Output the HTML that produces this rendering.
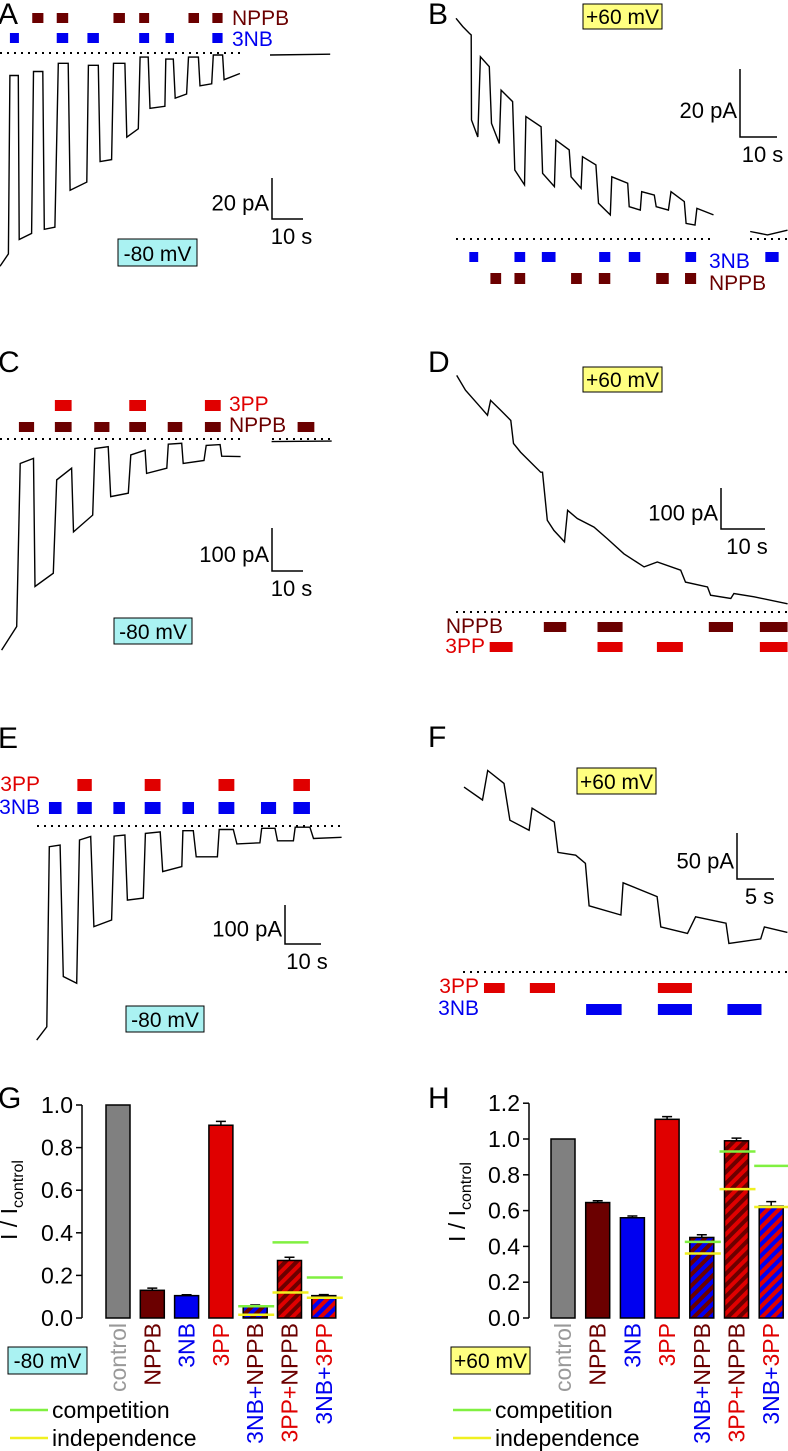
<!DOCTYPE html>
<html><head><meta charset="utf-8">
<style>
html,body{margin:0;padding:0;background:#fff;}
svg{display:block;font-family:"Liberation Sans",Arial,sans-serif;}
</style></head>
<body>
<svg id="fig" width="788" height="1451" viewBox="0 0 788 1451" xmlns="http://www.w3.org/2000/svg">
<defs>
<pattern id="p-3nb-nppb" patternUnits="userSpaceOnUse" width="8" height="8" patternTransform="rotate(45)"><rect width="4" height="8" fill="#0000f0"/><rect x="4" width="4" height="8" fill="#6b0000"/></pattern>
<pattern id="p-3pp-nppb" patternUnits="userSpaceOnUse" width="8" height="8" patternTransform="rotate(45)"><rect width="4" height="8" fill="#e00000"/><rect x="4" width="4" height="8" fill="#6b0000"/></pattern>
<pattern id="p-3nb-3pp" patternUnits="userSpaceOnUse" width="8" height="8" patternTransform="rotate(45)"><rect width="4" height="8" fill="#0000f0"/><rect x="4" width="4" height="8" fill="#e00000"/></pattern>
</defs>
</svg>
<script>
// ---- trace data: [time s, current pA] ----
const traceA = [[0,-104],[2.7,-98],[3.2,-11],[5.9,-11],[6.2,-91],[10.2,-88],[10.8,-9],[13.8,-9],[14.3,-86],[17.7,-85],[18.8,-5],[22.0,-5],[22.6,-67],[28.0,-63],[28.5,-6],[31.7,-6],[32.3,-53],[36.0,-52],[36.6,-5],[40.3,-5],[40.9,-41],[44.6,-37],[45.2,-2],[47.8,-2],[48.4,-27],[53.2,-26],[53.5,-3],[55.9,-3],[56.5,-22],[60.2,-20],[60.8,-2],[64.0,-2],[64.5,-16],[68.3,-15],[68.8,-1],[71.8,-1],[72.3,-13],[77.4,-10]];
const traceA2 = [[87.1,-1],[106.5,-0.6]];
const traceB = [[0,64.9],[1.8,62.5],[3.6,60.5],[4.1,60],[4.2,35],[5.9,30],[6.6,53.6],[9.0,50.7],[9.6,34],[11.7,28.1],[12.2,43.8],[15.3,40.4],[15.9,20.3],[18.5,15.9],[18.9,36],[23.0,33],[23.4,19.3],[26.6,15.4],[27.0,29.1],[30.6,26.2],[31.1,18.3],[33.8,14.9],[34.2,24.2],[37.8,21.8],[38.5,10.5],[41.7,7.1],[42.1,18.3],[46.4,16.4],[46.8,9.5],[49.8,8.5],[50.2,13.9],[53.6,12.9],[54.1,9.5],[57.4,8.5],[58.1,13.9],[61.7,11],[62.2,4.6],[64.6,4.1],[65.1,9],[69.6,7.1]];
const traceB2 = [[79.5,2.2],[84.2,1.2],[89.6,2.6]];
const traceC = [[0.5,-491],[5.4,-436],[6.5,-57],[10.8,-45],[11.3,-343],[17.2,-312],[18.3,-95],[23.1,-68],[23.7,-216],[29.9,-177],[30.6,-22],[34.9,-18],[35.7,-134],[41.4,-126],[42.2,-37],[46.8,-26],[47.3,-80],[53.8,-68],[54.3,-12],[58.6,-10],[59.1,-57],[65.8,-50],[66.5,-15],[71.0,-13],[71.5,-40],[77.6,-41]];
const traceC2 = [[87.6,-6],[107,-5]];
const traceD = [[0,577],[2.0,541],[4.7,508],[7.0,480],[7.7,516],[10.0,492],[12.3,467],[12.9,411],[14.5,390],[19.1,341],[19.5,341],[20.6,224],[22.1,199],[24.5,171],[25.2,248],[27.4,228],[31.2,207],[34.2,179],[38.0,142],[42.6,110],[45.6,122],[50.9,102],[52.0,73],[57.0,61],[57.7,41],[62.3,33],[63.0,45],[67.6,37],[75.2,20]];
const traceE = [[0,-549],[2.8,-515],[3.5,-53],[6.5,-49],[7.4,-386],[11.1,-403],[11.9,-36],[15,-27],[15.9,-258],[20.8,-241],[21.5,-26],[24.5,-23],[25.2,-190],[29.6,-185],[30.2,-19],[34.3,-15],[35,-117],[40.3,-104],[40.6,-12],[43.5,-12],[44.3,-79],[50.2,-79],[50.7,-9],[54.6,-9],[55.6,-46],[62,-43],[62.5,-6],[66.2,-6],[66.9,-38],[71.3,-38],[71.8,-3],[75.9,-3],[76.9,-32],[84.7,-29]];
const traceF = [[0,201],[2.5,187],[3.2,219],[5.4,205],[6.2,165],[8.8,154],[9.2,178],[12.2,163],[12.7,130],[15.1,127],[16.4,118],[16.9,72],[21.2,62],[21.5,97],[26.1,82],[26.6,49],[30.2,42],[31.3,60],[35.4,53],[35.8,31],[40.1,36],[40.6,49],[43.7,43]];
// ---- drug application intervals [start s, end s] ----
const appA_NPPB = [[10.4,14],[18.3,22],[36.6,40.3],[44.9,48.1],[60.8,64.2],[68.5,71.8]];
const appA_3NB = [[3.2,6.1],[18.3,22],[28.2,31.9],[44.9,48.1],[53.4,56.1],[68.5,71.8]];
const appB_3NB = [[3.6,6.0],[15.8,18.7],[23.2,26.9],[38.7,41.7],[46.7,49.8],[62,64.9],[83.6,87.2]];
const appB_NPPB = [[9.3,12.2],[15.8,18.7],[31.1,34],[38.6,41.7],[54.1,57.5],[61.9,64.9]];
const appC_3PP = [[17.7,23.1],[41.7,47.1],[66.1,71.2]];
const appC_NPPB = [[6.1,11],[17.7,23.1],[30.4,35.3],[41.7,47.1],[54.1,58.8],[66.1,71.2],[96,101.4]];
const appD_NPPB = [[19.8,24.9],[32,37.7],[57.3,62.8],[68.9,75.2]];
const appD_3PP = [[7.5,12.7],[32,37.7],[45.5,51.4],[68.9,75.2]];
const appE_3PP = [[11.3,15.3],[30,34.4],[50.5,54.9],[71.3,75.9]];
const appE_3NB = [[3.4,6.9],[11.3,15.3],[21.3,24.5],[30,34.4],[40.5,43.7],[50.5,54.9],[62.3,66.5],[71.3,75.9]];
const appF_3PP = [[2.7,5.5],[8.9,12.3],[26.2,30.8]];
const appF_3NB = [[16.5,21.3],[26.2,30.8],[35.6,40.2]];
// ---- bar chart data ----
const categories = ["control","NPPB","3NB","3PP","3NB+NPPB","3PP+NPPB","3NB+3PP"];
const valuesG = [1.0,0.13,0.105,0.905,0.055,0.27,0.105];
const errorsG = [0,0.01,0.004,0.018,0.006,0.015,0.005];
const competitionG = [0.055,0.355,0.19];
const independenceG = [0.015,0.12,0.095];
const valuesH = [1.0,0.645,0.56,1.11,0.45,0.99,0.625];
const errorsH = [0,0.01,0.01,0.015,0.015,0.015,0.025];
const competitionH = [0.425,0.93,0.85];
const independenceH = [0.36,0.72,0.62];
const ticksG = ["0.0","0.2","0.4","0.6","0.8","1.0"];
const ticksH = ["0.0","0.2","0.4","0.6","0.8","1.0","1.2"];

const NS="http://www.w3.org/2000/svg";
const svg=document.getElementById('fig');
function mk(tag,attrs,parent){const e=document.createElementNS(NS,tag);for(const k in attrs)e.setAttribute(k,attrs[k]);(parent||svg).appendChild(e);return e;}
function txt(s,attrs,parent){const e=mk('text',attrs,parent);e.textContent=s;return e;}

const C_NPPB="#6b0000",C_3NB="#0000f0",C_3PP="#e00000";

function panel(cfg){
  const g=mk('g',{});
  
  
  const X=t=>cfg.x0+t*cfg.pxS, Y=i=>cfg.y0-i*cfg.pxPA;
  cfg.zero.forEach(z=>{
    const l=mk('line',{x1:z[0],x2:z[1],y1:cfg.y0,y2:cfg.y0,stroke:'#000','stroke-width':2,'stroke-dasharray':'2,5'},g);
    
    
  });
  cfg.traces.forEach(tr=>{
    const d=tr.map((p,i)=>(i?'L':'M')+X(p[0]).toFixed(1)+' '+Y(p[1]).toFixed(1)).join(' ');
    const p=mk('path',{d:d,fill:'none',stroke:'#000','stroke-width':1.4},g);
    
    
  });
  cfg.apps.forEach(a=>{
    a.data.forEach(iv=>{
      const r=mk('rect',{x:X(iv[0]),y:a.y,width:X(iv[1])-X(iv[0]),height:a.h,fill:a.color},g);
      
      
    });
    const t=txt(a.name,{x:a.lx,y:a.ly,fill:a.color,'font-size':21,'text-anchor':a.anchor},g);
    
    
  });
  const L=txt(cfg.id,{x:cfg.lx,y:cfg.ly,'font-size':30},g);
  
  
  const vb=cfg.vbox;
  const r=mk('rect',{x:vb[0],y:vb[1],width:vb[2],height:vb[3],fill:vb[4],stroke:'#000','stroke-width':1},g);
  
  
  const vt=txt(vb[5],{x:vb[0]+vb[2]/2,y:vb[1]+vb[3]-5,'font-size':21,'text-anchor':'middle'},g);
  
  
  const s=cfg.sb;
  const sp=mk('path',{d:`M${s.x} ${s.y} L${s.x} ${s.y+s.h} L${s.x+s.w} ${s.y+s.h}`,fill:'none',stroke:'#000','stroke-width':1.5},g);
  
  
  const st1=txt(s.pa,{x:s.x-3,y:s.y+s.h*0.6+8,'font-size':22,'text-anchor':'end'},g);
  
  
  const st2=txt(s.s,{x:s.x+s.w/2+4,y:s.y+s.h+25,'font-size':22,'text-anchor':'middle'},g);
  
  
}

panel({id:'A',x0:0,pxS:3.1,y0:53,pxPA:2.05,zero:[[0,242]],traces:[traceA,traceA2],
  apps:[{name:'NPPB',data:appA_NPPB,y:13,h:10,color:C_NPPB,lx:232,ly:25,anchor:'start'},
        {name:'3NB',data:appA_3NB,y:33,h:10,color:C_3NB,lx:232,ly:46,anchor:'start'}],
  lx:-2,ly:24,vbox:[118,239,79,27,'#aaf2f2','-80 mV'],sb:{x:272,y:178,h:41,w:31,pa:'20 pA',s:'10 s'}});
panel({id:'B',x0:456,pxS:3.7,y0:239,pxPA:3.4,zero:[[456,714],[750,788]],traces:[traceB,traceB2],
  apps:[{name:'3NB',data:appB_3NB,y:252,h:10,color:C_3NB,lx:709,ly:268,anchor:'start'},
        {name:'NPPB',data:appB_NPPB,y:273,h:11,color:C_NPPB,lx:709,ly:290,anchor:'start'}],
  lx:428,ly:24,vbox:[583,4,79,25,'#ffff80','+60 mV'],sb:{x:740,y:69,h:68,w:37,pa:'20 pA',s:'10 s'}});
panel({id:'C',x0:0,pxS:3.1,y0:439,pxPA:0.43,zero:[[0,242],[272,332]],traces:[traceC,traceC2],
  apps:[{name:'3PP',data:appC_3PP,y:400,h:11,color:C_3PP,lx:229,ly:411,anchor:'start'},
        {name:'NPPB',data:appC_NPPB,y:422,h:10,color:C_NPPB,lx:229,ly:432,anchor:'start'}],
  lx:-2,ly:372,vbox:[114,618,78,26,'#aaf2f2','-80 mV'],sb:{x:272,y:528,h:43,w:31,pa:'100 pA',s:'10 s'}});
panel({id:'D',x0:456.7,pxS:4.4,y0:612,pxPA:0.41,zero:[[456,788]],traces:[traceD],
  apps:[{name:'NPPB',data:appD_NPPB,y:622,h:10,color:C_NPPB,lx:503,ly:633,anchor:'end'},
        {name:'3PP',data:appD_3PP,y:642,h:10,color:C_3PP,lx:485,ly:653,anchor:'end'}],
  lx:428,ly:372,vbox:[583,367,79,25,'#ffff80','+60 mV'],sb:{x:721,y:488,h:41,w:44,pa:'100 pA',s:'10 s'}});
panel({id:'E',x0:36.7,pxS:3.6,y0:826,pxPA:0.39,zero:[[37,344]],traces:[traceE],
  apps:[{name:'3PP',data:appE_3PP,y:779,h:12,color:C_3PP,lx:40,ly:791,anchor:'end'},
        {name:'3NB',data:appE_3NB,y:802,h:12,color:C_3NB,lx:40,ly:814,anchor:'end'}],
  lx:-2,ly:748,vbox:[126,1006,78,26,'#aaf2f2','-80 mV'],sb:{x:285,y:905,h:39,w:36,pa:'100 pA',s:'10 s'}});
panel({id:'F',x0:464,pxS:7.4,y0:972,pxPA:0.92,zero:[[463,788]],traces:[traceF],
  apps:[{name:'3PP',data:appF_3PP,y:983,h:10,color:C_3PP,lx:479,ly:993,anchor:'end'},
        {name:'3NB',data:appF_3NB,y:1004,h:11,color:C_3NB,lx:479,ly:1015,anchor:'end'}],
  lx:428,ly:747,vbox:[577,768,79,26,'#ffff80','+60 mV'],sb:{x:737,y:833,h:46,w:37,pa:'50 pA',s:'5 s'}});

// ---- bar charts ----
const fills=['#808080',C_NPPB,C_3NB,'#e00000','url(#p-3nb-nppb)','url(#p-3pp-nppb)','url(#p-3nb-3pp)'];
const labelParts=[[['control','#999']],[['NPPB',C_NPPB]],[['3NB',C_3NB]],[['3PP',C_3PP]],
  [['3NB+',C_3NB],['NPPB',C_NPPB]],[['3PP+',C_3PP],['NPPB',C_NPPB]],[['3NB+',C_3NB],['3PP',C_3PP]]];
function barChart(cfg){
  const g=mk('g',{});
  
  
  const Y=v=>cfg.y0-v*cfg.pxU;
  const ax=mk('line',{x1:cfg.ax,x2:cfg.ax,y1:Y(cfg.max),y2:cfg.y0,stroke:'#000','stroke-width':1.5},g);
  
  
  cfg.ticks.forEach(tk=>{
    const v=parseFloat(tk);
    const l=mk('line',{x1:cfg.ax-6,x2:cfg.ax,y1:Y(v),y2:Y(v),stroke:'#000','stroke-width':1.5},g);
    
    
    const t=txt(tk,{x:cfg.ax-9,y:Y(v)+8,'font-size':23,'text-anchor':'end'},g);
    
    
  });
  const yl=txt('',{transform:`translate(${cfg.ylx},${cfg.yly}) rotate(-90)`,'font-size':23,'text-anchor':'middle'},g);
  
  
  const a=mk('tspan',{},yl);a.textContent='I / I';
  const b=mk('tspan',{'font-size':16,dy:6},yl);b.textContent='control';
  const bx=i=>cfg.bx0+i*cfg.step;
  categories.forEach((c,i)=>{
    const v=cfg.values[i];
    const r=mk('rect',{x:bx(i),y:Y(v),width:24,height:cfg.y0-Y(v),fill:fills[i],stroke:'#000','stroke-width':1.5},g);
    
    
    if(cfg.errors[i]>0){
      const cx=bx(i)+12;
      const e=mk('path',{d:`M${cx} ${Y(v)} L${cx} ${Y(v+cfg.errors[i])} M${cx-5} ${Y(v+cfg.errors[i])} L${cx+5} ${Y(v+cfg.errors[i])}`,stroke:'#000','stroke-width':1.5,fill:'none'},g);
      
      
    }
    const t=txt('',{transform:`translate(${bx(i)+20},${cfg.y0+5}) rotate(-90)`,'font-size':23,'text-anchor':'end'},g);
    
    
    labelParts[i].forEach(p=>{const s=mk('tspan',{fill:p[1]},t);s.textContent=p[0];});
  });
  [[cfg.indep,'#f0f020','independence-line'],[cfg.comp,'#80f040','competition-line']].forEach(set=>{
    set[0].forEach((v,k)=>{
      const i=k+4;
      const x1=bx(i)-5, x2=Math.min(bx(i)+31,788);
      const l=mk('line',{x1:x1,x2:x2,y1:Y(v),y2:Y(v),stroke:set[1],'stroke-width':2.5},g);
      
      
    });
  });
  const L=txt(cfg.id,{x:cfg.lx,y:1108,'font-size':30},g);
  
  
  const vb=cfg.vbox;
  const r=mk('rect',{x:vb[0],y:1347,width:79,height:27,fill:vb[1],stroke:'#000','stroke-width':1},g);
  
  
  const vt=txt(vb[2],{x:vb[0]+39.5,y:1368,'font-size':21,'text-anchor':'middle'},g);
  
  
  [['competition','#80f040',1410,'legend-entry-competition'],['independence','#f0f020',1438,'legend-entry-independence']].forEach(le=>{
    const l=mk('line',{x1:cfg.legx,x2:cfg.legx+38,y1:le[2],y2:le[2],stroke:le[1],'stroke-width':2.5},g);
    
    
    const t=txt(le[0],{x:cfg.legx+42,y:le[2]+8,'font-size':23},g);
    
    
  });
}
barChart({id:'G',y0:1318,pxU:213,max:1.0,ax:82,ticks:ticksG,values:valuesG,errors:errorsG,comp:competitionG,indep:independenceG,
  bx0:106,step:34.3,ylx:17,yly:1200,lx:-2,vbox:[8,'#aaf2f2','-80 mV'],legx:10});
barChart({id:'H',y0:1318,pxU:179,max:1.2,ax:529,ticks:ticksH,values:valuesH,errors:errorsH,comp:competitionH,indep:independenceH,
  bx0:551,step:34.7,ylx:465,yly:1202,lx:428,vbox:[451,'#ffff80','+60 mV'],legx:453});
</script>
</body></html>
